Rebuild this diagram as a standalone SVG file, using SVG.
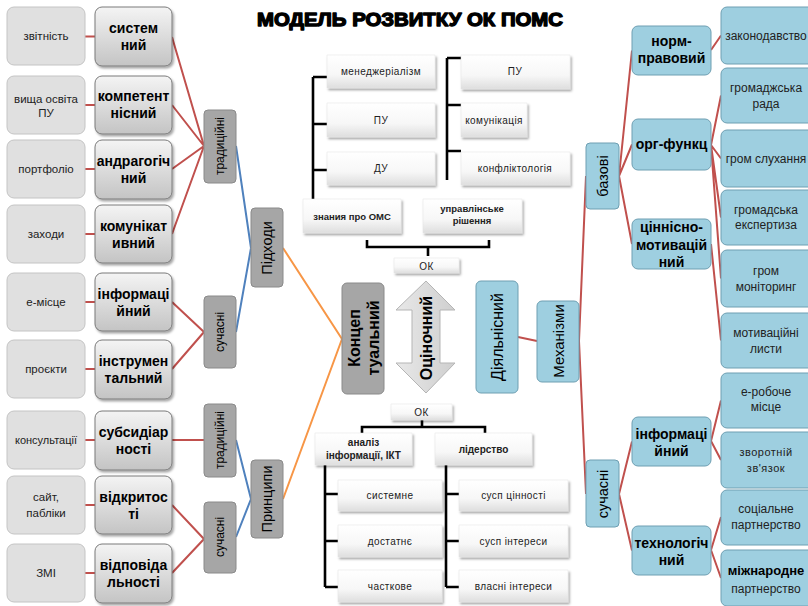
<svg xmlns="http://www.w3.org/2000/svg" width="808" height="606" viewBox="0 0 808 606">
<defs>
<linearGradient id="gDark" x1="0" y1="0" x2="0" y2="1"><stop offset="0" stop-color="#f4f4f4"/><stop offset="1" stop-color="#c4c4c4"/></linearGradient>
<linearGradient id="gWhite" x1="0" y1="0" x2="0" y2="1"><stop offset="0" stop-color="#ffffff"/><stop offset="0.6" stop-color="#f7f7f7"/><stop offset="1" stop-color="#dedede"/></linearGradient>
<linearGradient id="gArrow" x1="0" y1="0" x2="1" y2="0"><stop offset="0" stop-color="#e8e8e8"/><stop offset="1" stop-color="#cfcfcf"/></linearGradient>
<filter id="sh" x="-15%" y="-15%" width="140%" height="150%"><feDropShadow dx="1.5" dy="2" stdDeviation="1.3" flood-color="#000" flood-opacity="0.35"/></filter>
</defs>
<style>
.light{fill:#e0e0e0;stroke:#c4c4c4;stroke-width:1}
.dark{fill:url(#gDark);stroke:#7a7a7a;stroke-width:1;filter:url(#sh)}
.grey{fill:#a6a6a6;stroke:#8a8a8a;stroke-width:1}
.blue{fill:#9ecfe0;stroke:#6e9fb2;stroke-width:1}
.white{fill:url(#gWhite);stroke:#e4e4e4;stroke-width:0.5;filter:url(#sh)}
text{font-family:"Liberation Sans","Noto Sans",Arial,sans-serif;fill:#000}
.t11{font-size:11.5px;text-anchor:middle;fill:#222}
.b14{font-size:14px;font-weight:bold;text-anchor:middle}
.r12{font-size:12px;text-anchor:middle;dominant-baseline:central}
.r14{font-size:14.5px;text-anchor:middle;dominant-baseline:central}
.r16{font-size:16px;text-anchor:middle;dominant-baseline:central}
.s10{font-size:10px;text-anchor:middle;letter-spacing:0.4px;fill:#222}
.sb{font-size:9.5px;font-weight:bold;text-anchor:middle;fill:#222}
.rt{font-size:12px;text-anchor:middle;fill:#222}
.red{stroke:#c0504d;stroke-width:2;fill:none}
.bl{stroke:#4f81bd;stroke-width:2;fill:none}
.or{stroke:#f79646;stroke-width:2;fill:none}
.blk{stroke:#000;stroke-width:2.6;fill:none}
</style>

<text x="410" y="26" style="font-size:18px;font-weight:bold;text-anchor:middle;stroke:#000;stroke-width:1.3;stroke-linejoin:round" textLength="306" lengthAdjust="spacingAndGlyphs">МОДЕЛЬ РОЗВИТКУ  ОК ПОМС</text>

<g id="connectors">
<path class="red" d="M85 36.5H95M85 105H95M85 169H95M85 234H95M85 302H95M85 369H95M85 440H95M85 505H95M85 573H95"/>
<path class="red" d="M172 37L204 146M172 105L204 146M172 169L204 146M172 234L204 146"/>
<path class="red" d="M172 302L204 332M172 369L204 332"/>
<path class="red" d="M172 440H204M172 505L204 539M172 573L204 539"/>
<path class="bl" d="M236 146L251 248M236 332L251 248M236 440L251 499M236 537L251 499"/>
<path class="or" d="M283 248L342 339M283 499L342 339"/>
<path class="blk" d="M313 77V199M313 77H327M313 124H327M313 170H327"/>
<path class="blk" d="M447 58V180M447 58H461M447 105H461M447 151H461"/>
<path class="blk" d="M367 240V247H489V240M428 247V256"/>
<path class="blk" d="M422 420V427M362 434V427H485V434"/>
<path class="blk" d="M325 465V587M325 494H338M325 541H338M325 587H338"/>
<path class="blk" d="M446 465V587M446 494H459M446 541H459M446 587H459"/>
<path class="red" d="M518 337L537 341"/>
<path class="red" d="M579 341L586 176M579 341L586 494"/>
<path class="red" d="M619 176L632 50.5M619 176L632 144.5M619 176L632 244"/>
<path class="red" d="M619 494L632 441.5M619 494L632 550.5"/>
<path class="red" d="M711 50L721 35.5M711 145L721 95.5M711 145L721 158.5M711 145L721 217.5M711 145L721 278.5M711 244L721 340.5"/>
<path class="red" d="M711 441L721 400.5M711 441L721 460M711 550L721 517M711 550L721 578"/>
</g>

<g id="n-zvitnist"><rect class="light" x="7" y="7" width="78" height="58" rx="7"/><text class="t11" x="46" y="40">звітність</text></g>
<g id="n-vyshcha"><rect class="light" x="7" y="76" width="78" height="58" rx="7"/><text class="t11" x="46" y="103">вища освіта</text><text class="t11" x="46" y="117">ПУ</text></g>
<g id="n-portfolio"><rect class="light" x="7" y="140" width="78" height="58" rx="7"/><text class="t11" x="46" y="173">портфоліо</text></g>
<g id="n-zakhody"><rect class="light" x="7" y="205" width="78" height="58" rx="7"/><text class="t11" x="46" y="238">заходи</text></g>
<g id="n-emisce"><rect class="light" x="7" y="273" width="78" height="58" rx="7"/><text class="t11" x="46" y="306">е-місце</text></g>
<g id="n-proekty"><rect class="light" x="7" y="340" width="78" height="58" rx="7"/><text class="t11" x="46" y="373">проєкти</text></g>
<g id="n-konsult"><rect class="light" x="7" y="411" width="78" height="58" rx="7"/><text class="t11" x="46" y="444" style="font-size:11px">консультації</text></g>
<g id="n-sait"><rect class="light" x="7" y="476" width="78" height="58" rx="7"/><text class="t11" x="46" y="501">сайт,</text><text class="t11" x="46" y="517">пабліки</text></g>
<g id="n-zmi"><rect class="light" x="7" y="544" width="78" height="58" rx="7"/><text class="t11" x="46" y="577">ЗМІ</text></g>

<g id="n-systemnyi"><rect class="dark" x="95" y="7" width="77" height="59" rx="7"/><text class="b14" x="133.5" y="33">систем</text><text class="b14" x="133.5" y="50">ний</text></g>
<g id="n-kompetent"><rect class="dark" x="95" y="76" width="77" height="58" rx="7"/><text class="b14" x="133.5" y="101">компетент</text><text class="b14" x="133.5" y="118">нісний</text></g>
<g id="n-andrag"><rect class="dark" x="95" y="140" width="77" height="59" rx="7"/><text class="b14" x="133.5" y="166">андрагогіч</text><text class="b14" x="133.5" y="183">ний</text></g>
<g id="n-komunik"><rect class="dark" x="95" y="205" width="77" height="58" rx="7"/><text class="b14" x="133.5" y="231">комунікат</text><text class="b14" x="133.5" y="248">ивний</text></g>
<g id="n-inform"><rect class="dark" x="95" y="273" width="77" height="58" rx="7"/><text class="b14" x="133.5" y="299">інформаці</text><text class="b14" x="133.5" y="316">йний</text></g>
<g id="n-instrum"><rect class="dark" x="95" y="340" width="77" height="59" rx="7"/><text class="b14" x="133.5" y="366">інструмен</text><text class="b14" x="133.5" y="383">тальний</text></g>
<g id="n-subsyd"><rect class="dark" x="95" y="411" width="77" height="59" rx="7"/><text class="b14" x="133.5" y="437">субсидіар</text><text class="b14" x="133.5" y="454">ності</text></g>
<g id="n-vidkryt"><rect class="dark" x="95" y="476" width="77" height="58" rx="7"/><text class="b14" x="133.5" y="502">відкритос</text><text class="b14" x="133.5" y="519">ті</text></g>
<g id="n-vidpov"><rect class="dark" x="95" y="544" width="77" height="59" rx="7"/><text class="b14" x="133.5" y="570">відповіда</text><text class="b14" x="133.5" y="587">льності</text></g>

<g id="n-trad1"><rect class="grey" x="204" y="110" width="32" height="73" rx="4"/><text class="r12" transform="translate(220,146) rotate(-90)">традиційні</text></g>
<g id="n-suchasni1"><rect class="grey" x="204" y="296" width="32" height="72" rx="4"/><text class="r12" transform="translate(220,332) rotate(-90)">сучасні</text></g>
<g id="n-pidkhody"><rect class="grey" x="251" y="208" width="32" height="79" rx="4"/><text class="r14" transform="translate(267,248) rotate(-90)">Підходи</text></g>
<g id="n-trad2"><rect class="grey" x="204" y="404" width="32" height="73" rx="4"/><text class="r12" transform="translate(220,440) rotate(-90)">традиційні</text></g>
<g id="n-suchasni2"><rect class="grey" x="204" y="502" width="32" height="71" rx="4"/><text class="r12" transform="translate(220,537) rotate(-90)">сучасні</text></g>
<g id="n-pryntsypy"><rect class="grey" x="251" y="460" width="32" height="78" rx="4"/><text class="r14" transform="translate(267,499) rotate(-90)">Принципи</text></g>
<g id="n-kontsept"><rect class="grey" x="342" y="283" width="42" height="111" rx="5"/><text class="r16" style="font-weight:bold" transform="translate(363,338) rotate(-90)"><tspan x="0" y="-9">Концеп</tspan><tspan x="0" y="10">туальний</tspan></text></g>

<g id="n-menedzh"><rect class="white" x="327" y="55" width="108" height="33"/><text class="s10" x="381" y="75">менеджеріалізм</text></g>
<g id="n-pu1"><rect class="white" x="327" y="103" width="108" height="34"/><text class="s10" x="381" y="124">ПУ</text></g>
<g id="n-du"><rect class="white" x="327" y="152" width="108" height="33"/><text class="s10" x="381" y="172">ДУ</text></g>
<g id="n-pu2"><rect class="white" x="461" y="55" width="109" height="34"/><text class="s10" x="515" y="75">ПУ</text></g>
<g id="n-komunikatsiia"><rect class="white" x="461" y="103" width="66" height="34"/><text class="s10" x="494" y="124">комунікація</text></g>
<g id="n-konflikt"><rect class="white" x="461" y="152" width="109" height="33"/><text class="s10" x="515" y="172">конфліктологія</text></g>
<g id="n-znannia"><rect class="white" x="303" y="199" width="98" height="34"/><text class="sb" x="352" y="220">знания  про ОМС</text></g>
<g id="n-upravl"><rect class="white" x="423" y="199" width="99" height="34"/><text class="sb" x="472" y="212">управлінське</text><text class="sb" x="472" y="224">рішення</text></g>
<g id="n-ok1"><rect class="white" x="394" y="258" width="65" height="15"/><text class="s10" x="426.5" y="269.5">ОК</text></g>

<g id="n-otsinochnyi"><polygon points="426,281 455,310 440,310 440,363 455,363 426,393 396,363 412,363 412,310 396,310" fill="url(#gArrow)" stroke="#b5b5b5" stroke-width="1"/><text class="r16" style="font-weight:bold" transform="translate(426,338) rotate(-90)">Оціночний</text></g>

<g id="n-ok2"><rect class="white" x="391" y="404" width="61" height="16"/><text class="s10" x="421.5" y="416">ОК</text></g>
<g id="n-analiz"><rect class="white" x="315" y="433" width="97" height="32"/><text class="sb" x="363.5" y="446" style="font-size:10px">аналіз</text><text class="sb" x="363.5" y="459" style="font-size:10px">інформації, ІКТ</text></g>
<g id="n-liderstvo"><rect class="white" x="435" y="433" width="97" height="32"/><text class="sb" x="483.5" y="453" style="font-size:10px">лідерство</text></g>
<g id="n-systemne"><rect class="white" x="338" y="480" width="104" height="31"/><text class="s10" x="390" y="499">системне</text></g>
<g id="n-dostatne"><rect class="white" x="338" y="525" width="104" height="32"/><text class="s10" x="390" y="545">достатнє</text></g>
<g id="n-chastkove"><rect class="white" x="338" y="570" width="104" height="32"/><text class="s10" x="390" y="590">часткове</text></g>
<g id="n-tsinnosti"><rect class="white" x="459" y="480" width="109" height="31"/><text class="s10" x="513.5" y="499">сусп цінності</text></g>
<g id="n-interesy"><rect class="white" x="459" y="525" width="109" height="32"/><text class="s10" x="513.5" y="545">сусп інтереси</text></g>
<g id="n-vlasni"><rect class="white" x="459" y="570" width="109" height="32"/><text class="s10" x="513.5" y="590">власні інтереси</text></g>

<g id="n-diialnisnyi"><rect class="blue" x="476" y="281" width="42" height="112" rx="5"/><text class="r16" transform="translate(497,337) rotate(-90)">Діяльнісний</text></g>
<g id="n-mekhanizmy"><rect class="blue" x="537" y="301" width="42" height="81" rx="5"/><text class="r16" style="font-size:15px" transform="translate(558,341) rotate(-90)">Механізми</text></g>
<g id="n-bazovi"><rect class="blue" x="586" y="143" width="33" height="66" rx="4"/><text class="r14" transform="translate(602.5,176) rotate(-90)">базові</text></g>
<g id="n-suchasni3"><rect class="blue" x="586" y="460" width="33" height="67" rx="4"/><text class="r14" transform="translate(602.5,494) rotate(-90)">сучасні</text></g>
<g id="n-normpr"><rect class="blue" x="632" y="26" width="79" height="49" rx="6"/><text class="b14" x="671.5" y="46">норм-</text><text class="b14" x="671.5" y="63">правовий</text></g>
<g id="n-orgf"><rect class="blue" x="632" y="119" width="79" height="51" rx="6"/><text class="b14" x="671.5" y="149">орг-функц</text></g>
<g id="n-tsinnisno"><rect class="blue" x="632" y="219" width="79" height="50" rx="6"/><text class="b14" x="671.5" y="232">ціннісно-</text><text class="b14" x="671.5" y="250">мотивацій</text><text class="b14" x="671.5" y="267">ний</text></g>
<g id="n-informr"><rect class="blue" x="632" y="417" width="79" height="49" rx="6"/><text class="b14" x="671.5" y="439">інформаці</text><text class="b14" x="671.5" y="456">йний</text></g>
<g id="n-tekhnol"><rect class="blue" x="632" y="526" width="79" height="49" rx="6"/><text class="b14" x="671.5" y="548">технологіч</text><text class="b14" x="671.5" y="565">ний</text></g>

<g id="n-zakon"><rect class="blue" x="721" y="7" width="94" height="57" rx="6"/><text class="rt" x="766" y="39.5">законодавство</text></g>
<g id="n-rada"><rect class="blue" x="721" y="68" width="94" height="55" rx="6"/><text class="rt" x="766" y="92">громаджська</text><text class="rt" x="766" y="108">рада</text></g>
<g id="n-slukhannia"><rect class="blue" x="721" y="130" width="94" height="57" rx="6"/><text class="rt" x="766" y="162.5">гром слухання</text></g>
<g id="n-ekspert"><rect class="blue" x="721" y="190" width="94" height="55" rx="6"/><text class="rt" x="766" y="214">громадська</text><text class="rt" x="766" y="229">експертиза</text></g>
<g id="n-monitor"><rect class="blue" x="721" y="250" width="94" height="57" rx="6"/><text class="rt" x="766" y="275">гром</text><text class="rt" x="766" y="291">моніторинг</text></g>
<g id="n-lysty"><rect class="blue" x="721" y="313" width="94" height="55" rx="6"/><text class="rt" x="766" y="337">мотиваційні</text><text class="rt" x="766" y="353">листи</text></g>
<g id="n-erob"><rect class="blue" x="721" y="373" width="94" height="55" rx="6"/><text class="rt" x="766" y="396">е-робоче</text><text class="rt" x="766" y="411">місце</text></g>
<g id="n-zvorot"><rect class="blue" x="721" y="432" width="94" height="56" rx="6"/><text class="rt" x="766" y="456" style="font-size:11px;letter-spacing:0.5px">зворотній</text><text class="rt" x="766" y="472" style="font-size:11px;letter-spacing:0.5px">зв'язок</text></g>
<g id="n-sotsial"><rect class="blue" x="721" y="490" width="94" height="55" rx="6"/><text class="rt" x="766" y="513">соціальне</text><text class="rt" x="766" y="529">партнерство</text></g>
<g id="n-mizhnar"><rect class="blue" x="721" y="550" width="94" height="56" rx="6"/><text class="rt" x="766" y="575" style="font-size:13px;font-weight:bold;fill:#000">міжнародне</text><text class="rt" x="766" y="593">партнерство</text></g>
</svg>
